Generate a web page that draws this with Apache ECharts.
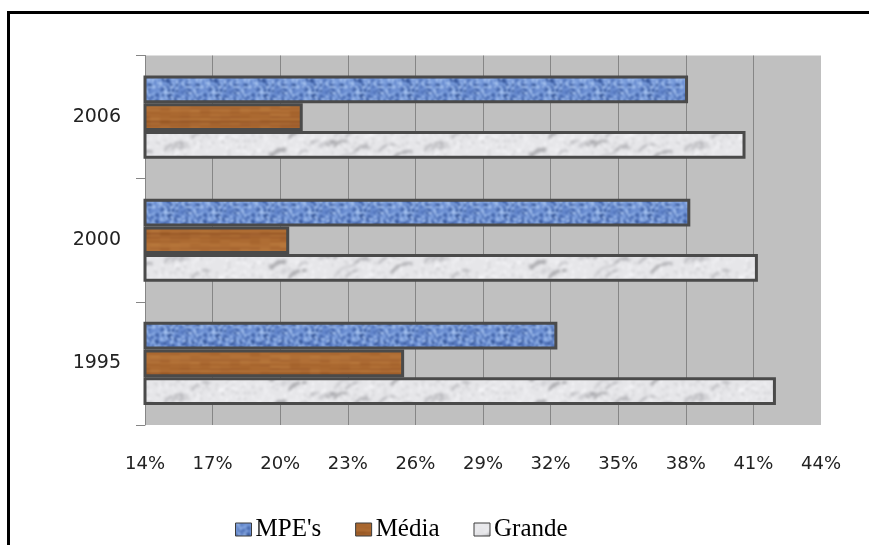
<!DOCTYPE html>
<html>
<head>
<meta charset="utf-8">
<script src="https://cdn.jsdelivr.net/npm/echarts@6/dist/echarts.min.js"></script>
<style>
  html, body { margin: 0; padding: 0; background: #fff; }
  #chart { width: 869px; height: 545px; }
</style>
</head>
<body>
<div id="chart"></div>
<script>
// Share of firms by size class, per year (percent)
const years = ['1995', '2000', '2006'];
const seriesNames = ["MPE's", 'Média', 'Grande'];
const mpeValues = [32.3, 38.2, 38.1];
const mediaValues = [25.5, 20.4, 21.0];
const grandeValues = [42.0, 41.2, 40.65];
const axisMin = 14;
const axisMax = 44;
const axisStep = 3;

// Deterministic hash used for the fabric-like fills
function hash(i, j, s) {
  let n = Math.imul(i, 374761393) + Math.imul(j, 668265263) + Math.imul(s, 982451653);
  n = Math.imul(n ^ (n >>> 13), 1274126177);
  n = n ^ (n >>> 16);
  return ((n >>> 0) % 10000) / 10000;
}
function canvas(w, h) {
  const c = document.createElement('canvas');
  c.width = w; c.height = h;
  return c;
}
// Blur a tile so that it still repeats seamlessly
function softened(src, px) {
  const w = src.width, h = src.height;
  const big = canvas(w * 3, h * 3);
  const bctx = big.getContext('2d');
  for (let dx = 0; dx < 3; dx++)
    for (let dy = 0; dy < 3; dy++)
      bctx.drawImage(src, dx * w, dy * h);
  const out = canvas(w, h);
  const ctx = out.getContext('2d');
  ctx.filter = 'blur(' + px + 'px)';
  ctx.drawImage(big, -w, -h);
  return out;
}

// Blue woven fill
function denimTile() {
  const w = 48, h = 30;
  const c = canvas(w, h), ctx = c.getContext('2d');
  const tones = ['#2a4a8c', '#4668ae', '#5d80c6', '#6f92d4', '#86a8e2', '#a8c4f0'];
  for (let y = 0; y < h; y += 2) {
    for (let x = 0; x < w; x += 2) {
      let v = hash(x, y, 7) * 0.85 + 0.1;
      if ((x / 2) % 3 === 0) v -= 0.12;
      if ((y / 2) % 4 === 1) v += 0.1;
      const k = Math.max(0, Math.min(tones.length - 1, Math.floor(v * tones.length)));
      ctx.fillStyle = tones[k];
      ctx.fillRect(x, y, 2, 2);
    }
  }
  return softened(c, 0.8);
}

// Brown wood-grain fill
function woodTile() {
  const w = 160, h = 28;
  const c = canvas(w, h), ctx = c.getContext('2d');
  const tones = ['#8e4f1e', '#99582a', '#a4622c', '#ad6b32', '#b7763b', '#c08242'];
  for (let y = 0; y < h; y++) {
    const rowV = hash(3, y, 11);
    for (let x = 0; x < w; x += 10) {
      let v = rowV * 0.75 + hash(x, y, 5) * 0.25;
      const k = Math.max(0, Math.min(tones.length - 1, Math.floor(v * tones.length)));
      ctx.fillStyle = tones[k];
      ctx.fillRect(x, y, 10, 1);
    }
  }
  return softened(c, 1.0);
}

// Light marble fill
function marbleTile() {
  const w = 260, h = 28;
  const c = canvas(w, h), ctx = c.getContext('2d');
  ctx.fillStyle = '#e6e6e9';
  ctx.fillRect(0, 0, w, h);
  for (let i = 0; i < 18; i++) {
    const x = hash(i, 1, 21) * (w - 30);
    const y = 4 + hash(i, 2, 21) * (h - 4);
    const len = 8 + hash(i, 3, 21) * 18;
    const g = Math.floor(165 + hash(i, 4, 21) * 45);
    ctx.strokeStyle = 'rgb(' + g + ',' + g + ',' + (g + 4) + ')';
    ctx.lineWidth = 2 + hash(i, 5, 21) * 3;
    ctx.beginPath();
    ctx.moveTo(x, y);
    ctx.quadraticCurveTo(x + len * 0.3, y - len * 0.5, x + len * 0.9, y - len * 0.4);
    ctx.stroke();
  }
  for (let y = 0; y < h; y += 2) {
    for (let x = 0; x < w; x += 2) {
      const v = hash(x, y, 31);
      if (v > 0.88) {
        ctx.fillStyle = 'rgba(250,250,252,0.8)';
        ctx.fillRect(x, y, 2, 2);
      } else if (v < 0.05) {
        ctx.fillStyle = 'rgba(170,170,175,0.5)';
        ctx.fillRect(x, y, 2, 2);
      }
    }
  }
  return softened(c, 1.8);
}

const fills = [
  { image: denimTile(), repeat: 'repeat' },
  { image: woodTile(), repeat: 'repeat' },
  { image: marbleTile(), repeat: 'repeat' }
];
const valueSets = [mpeValues, mediaValues, grandeValues];

const chart = echarts.init(document.getElementById('chart'), null, { renderer: 'canvas' });

const barStyle = { borderColor: '#4a4a4a', borderWidth: 3 };

chart.setOption({
  animation: false,
  backgroundColor: '#ffffff',
  grid: {
    left: 145, top: 55.5, right: 48, bottom: 120,
    show: true, backgroundColor: '#c0c0c0', borderWidth: 0
  },
  legend: {
    left: 235, top: 517, padding: 0,
    itemWidth: 16, itemHeight: 13, itemGap: 34,
    icon: 'rect',
    itemStyle: { borderColor: '#3c3c3c', borderWidth: 1 },
    textStyle: { fontFamily: 'Liberation Serif', fontSize: 25, color: '#000', padding: [0, 0, 0, -1] },
    data: seriesNames
  },
  xAxis: {
    type: 'value',
    min: axisMin, max: axisMax, interval: axisStep,
    axisLine: { show: false },
    axisTick: { show: false },
    splitLine: { show: true, showMaxLine: false, lineStyle: { color: '#868686', width: 1 } },
    axisLabel: {
      formatter: v => v + '%',
      fontFamily: 'DejaVu Sans', fontSize: 18, color: '#222', margin: 30
    }
  },
  yAxis: {
    type: 'category',
    data: years,
    axisLine: { show: true, lineStyle: { color: '#868686', width: 1 } },
    axisTick: { show: true, length: 9, lineStyle: { color: '#868686', width: 1 } },
    axisLabel: { fontFamily: 'DejaVu Sans', fontSize: 19, color: '#222', margin: 24 }
  },
  series: seriesNames.map((name, i) => ({
    name: name,
    type: 'bar',
    data: valueSets[i],
    barWidth: 27.7,
    barGap: '0%',
    itemStyle: Object.assign({ color: fills[i] }, barStyle)
  })),
  graphic: [{
    type: 'rect',
    silent: true,
    shape: { x: 8.5, y: 12.5, width: 900, height: 600 },
    style: { fill: null, stroke: '#000', lineWidth: 3 },
    z: 100
  }]
});
</script>
</body>
</html>
